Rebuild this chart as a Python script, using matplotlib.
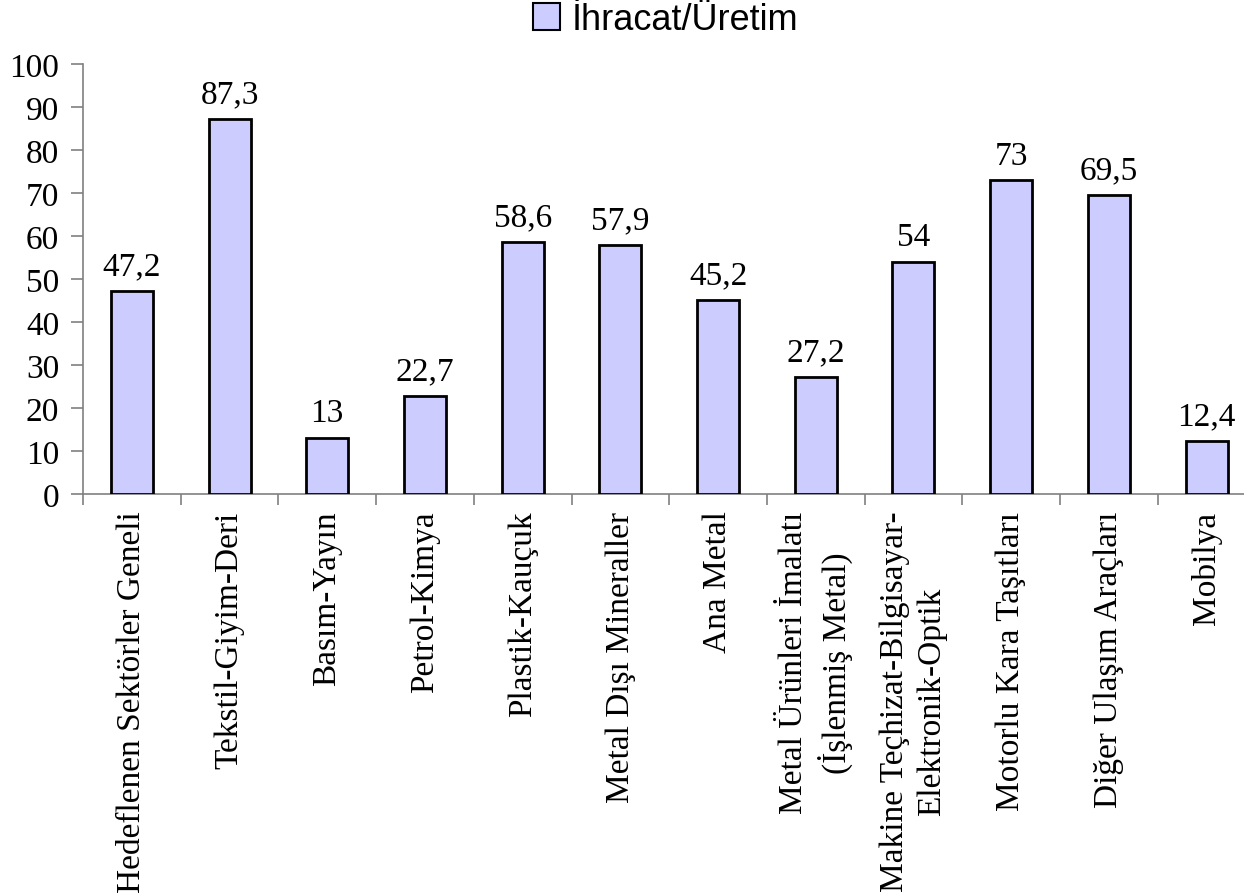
import numpy as np
import matplotlib.pyplot as plt
from matplotlib.patches import Patch

sectors = ['Hedeflenen Sektörler Geneli', 'Tekstil-Giyim-Deri', 'Basım-Yayın',
           'Petrol-Kimya', 'Plastik-Kauçuk', 'Metal Dışı Mineraller', 'Ana Metal',
           'Metal Ürünleri İmalatı\n(İşlenmiş Metal)',
           'Makine Teçhizat-Bilgisayar-\nElektronik-Optik',
           'Motorlu Kara Taşıtları', 'Diğer Ulaşım Araçları', 'Mobilya']
ratio = [47.2, 87.3, 13, 22.7, 58.6, 57.9, 45.2, 27.2, 54, 73, 69.5, 12.4]
value_labels = ['47,2', '87,3', '13', '22,7', '58,6', '57,9', '45,2', '27,2',
                '54', '73', '69,5', '12,4']

serif = 'Liberation Serif'
bar_col = '#CCCCFF'
axis_col = '#808080'
fs = 24

fig = plt.figure(figsize=(12.44, 8.95), dpi=100)
ax = fig.add_axes([0.0667, 0.447, 0.9425, 0.480])

ind = np.arange(len(sectors))
ax.bar(ind, ratio, 0.43, color=bar_col, edgecolor='black', linewidth=2, zorder=3)

for i in range(len(ratio)):
    ax.annotate(value_labels[i], (ind[i], ratio[i]), xytext=(0, 7),
                textcoords='offset points', ha='center', va='bottom',
                fontfamily=serif, fontsize=fs)

ax.set_xlim(-0.5, len(sectors) - 0.5)
ax.set_ylim(0, 100)
ax.set_yticks(np.arange(0, 101, 10))
ax.set_xticks(np.arange(-0.5, len(sectors) - 0.5, 1))
ax.set_xticklabels([])
ax.set_xticks(ind, minor=True)
ax.set_xticklabels(sectors, minor=True, rotation=90, ha='center', va='top',
                   multialignment='center', linespacing=1.3,
                   fontfamily=serif, fontsize=fs)
ax.tick_params(axis='x', which='minor', length=0, pad=12)
ax.tick_params(axis='x', which='major', length=8, width=1.2, color=axis_col, direction='out')
ax.tick_params(axis='y', length=9, width=1.2, color=axis_col, direction='out', pad=8)
for lab in ax.get_yticklabels():
    lab.set_fontfamily(serif)
    lab.set_fontsize(fs)

for s in ['top', 'right']:
    ax.spines[s].set_visible(False)
for s in ['left', 'bottom']:
    ax.spines[s].set_color(axis_col)
    ax.spines[s].set_linewidth(1.2)

handle = Patch(facecolor=bar_col, edgecolor='black', linewidth=1.5)
fig.legend([handle], ['İhracat/Üretim'], loc='center', bbox_to_anchor=(0.535, 0.977),
           frameon=False, prop={'family': 'Liberation Sans', 'size': 26},
           handlelength=0.75, handleheight=0.75, handletextpad=0.3)

fig.savefig('out.png', dpi=100)
